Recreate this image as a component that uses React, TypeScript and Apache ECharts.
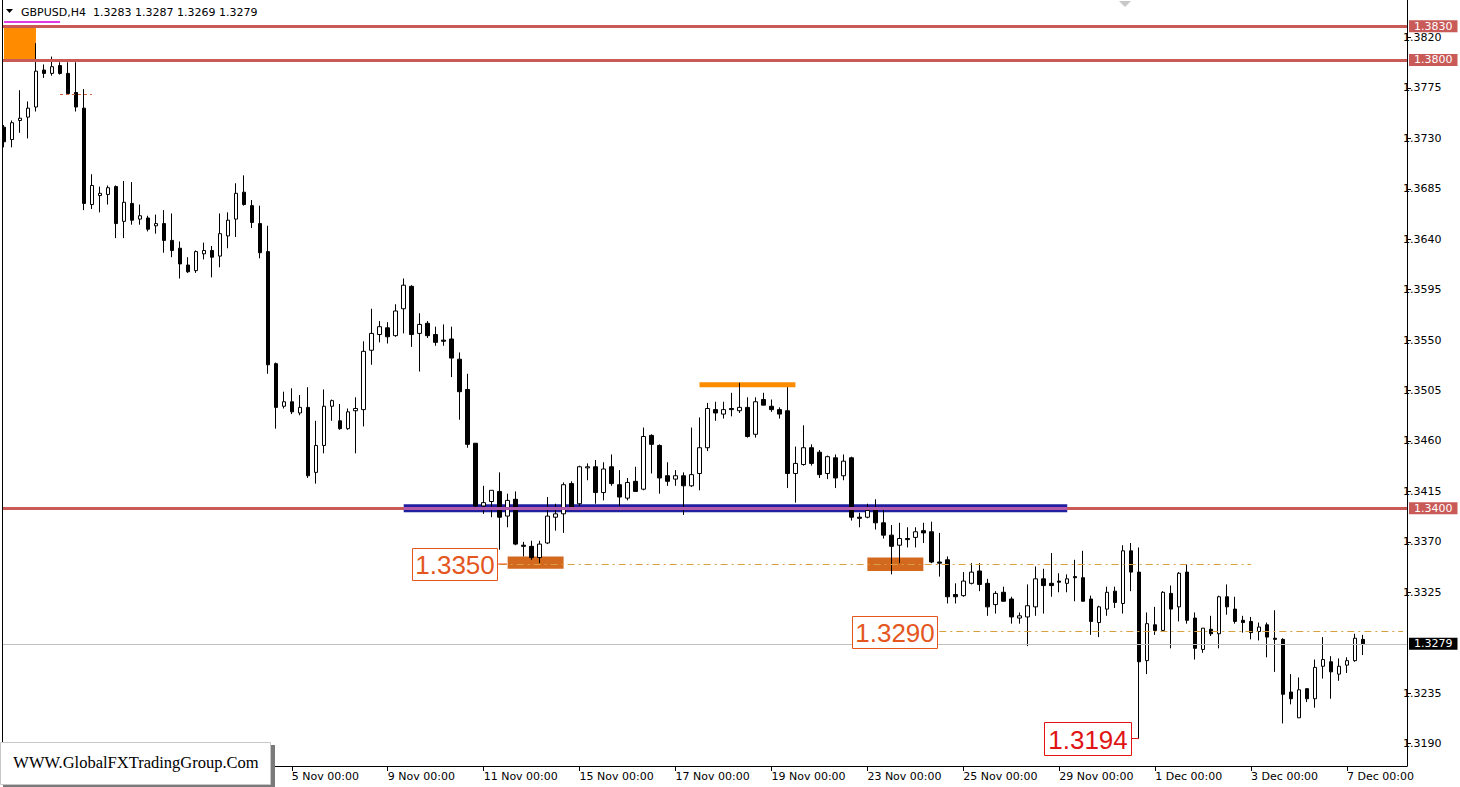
import React, { useEffect, useRef } from 'react';
import * as echarts from 'echarts';

const FONT = '"DejaVu Sans", Verdana, sans-serif';

// H4 bars: [open, close, low, high]
const bars: number[][] = [
  [1.3740, 1.3727, 1.3722, 1.3742], [1.3729, 1.3744, 1.3722, 1.3746], [1.3746, 1.3748, 1.3735, 1.3773],
  [1.3749, 1.3757, 1.3730, 1.3763], [1.3758, 1.3790, 1.3754, 1.3815], [1.3791, 1.3788, 1.3784, 1.3796],
  [1.3788, 1.3794, 1.3786, 1.3803], [1.3795, 1.3788, 1.3787, 1.3798], [1.3788, 1.3770, 1.3769, 1.3798],
  [1.3771, 1.3758, 1.3754, 1.3798], [1.3757, 1.3672, 1.3666, 1.3774], [1.3671, 1.3688, 1.3667, 1.3698],
  [1.3679, 1.3681, 1.3664, 1.3687], [1.3680, 1.3686, 1.3671, 1.3688], [1.3687, 1.3654, 1.3641, 1.3688],
  [1.3656, 1.3673, 1.3641, 1.3692], [1.3672, 1.3657, 1.3653, 1.3691], [1.3658, 1.3661, 1.3653, 1.3671],
  [1.3659, 1.3649, 1.3647, 1.3661], [1.3652, 1.3654, 1.3645, 1.3662], [1.3654, 1.3639, 1.3628, 1.3666],
  [1.3639, 1.3630, 1.3624, 1.3663], [1.3632, 1.3618, 1.3605, 1.3638], [1.3617, 1.3611, 1.3610, 1.3624],
  [1.3612, 1.3629, 1.3610, 1.3630], [1.3627, 1.3630, 1.3622, 1.3637], [1.3630, 1.3624, 1.3606, 1.3634],
  [1.3625, 1.3645, 1.3615, 1.3663], [1.3643, 1.3657, 1.3632, 1.3664], [1.3658, 1.3681, 1.3642, 1.3690],
  [1.3682, 1.3671, 1.3670, 1.3697], [1.3670, 1.3655, 1.3650, 1.3675], [1.3654, 1.3628, 1.3623, 1.3670],
  [1.3629, 1.3528, 1.3520, 1.3652], [1.3529, 1.3490, 1.3471, 1.3530], [1.3491, 1.3495, 1.3489, 1.3504],
  [1.3495, 1.3486, 1.3484, 1.3507], [1.3485, 1.3490, 1.3483, 1.3501], [1.3490, 1.3429, 1.3427, 1.3508],
  [1.3432, 1.3456, 1.3422, 1.3478], [1.3456, 1.3491, 1.3449, 1.3506], [1.3491, 1.3496, 1.3478, 1.3497],
  [1.3478, 1.3471, 1.3470, 1.3493], [1.3471, 1.3486, 1.3470, 1.3489], [1.3487, 1.3489, 1.3449, 1.3499],
  [1.3488, 1.3540, 1.3473, 1.3549], [1.3541, 1.3556, 1.3528, 1.3578], [1.3555, 1.3562, 1.3548, 1.3567],
  [1.3561, 1.3553, 1.3547, 1.3566], [1.3554, 1.3576, 1.3553, 1.3582], [1.3578, 1.3599, 1.3556, 1.3605],
  [1.3598, 1.3555, 1.3544, 1.3599], [1.3556, 1.3564, 1.3522, 1.3574], [1.3565, 1.3554, 1.3552, 1.3567],
  [1.3555, 1.3548, 1.3545, 1.3562], [1.3550, 1.3549, 1.3545, 1.3564], [1.3551, 1.3534, 1.3517, 1.3562],
  [1.3533, 1.3504, 1.3479, 1.3539], [1.3506, 1.3457, 1.3454, 1.3520], [1.3458, 1.3402, 1.3401, 1.3458],
  [1.3402, 1.3405, 1.3395, 1.3420], [1.3406, 1.3416, 1.3392, 1.3416], [1.3415, 1.3392, 1.3363, 1.3432],
  [1.3393, 1.3407, 1.3383, 1.3413], [1.3408, 1.3368, 1.3367, 1.3415], [1.3367, 1.3366, 1.3357, 1.3370],
  [1.3366, 1.3356, 1.3354, 1.3371], [1.3356, 1.3368, 1.3351, 1.3371], [1.3369, 1.3393, 1.3368, 1.3410],
  [1.3392, 1.3395, 1.3380, 1.3404], [1.3395, 1.3421, 1.3378, 1.3423], [1.3422, 1.3401, 1.3400, 1.3424],
  [1.3404, 1.3437, 1.3402, 1.3438], [1.3436, 1.3437, 1.3425, 1.3440], [1.3437, 1.3414, 1.3404, 1.3443],
  [1.3414, 1.3435, 1.3407, 1.3441], [1.3437, 1.3422, 1.3420, 1.3448], [1.3421, 1.3410, 1.3402, 1.3434],
  [1.3409, 1.3423, 1.3407, 1.3427], [1.3424, 1.3415, 1.3415, 1.3437], [1.3417, 1.3464, 1.3416, 1.3472],
  [1.3465, 1.3457, 1.3431, 1.3466], [1.3456, 1.3427, 1.3413, 1.3457], [1.3429, 1.3424, 1.3420, 1.3441],
  [1.3426, 1.3429, 1.3420, 1.3434], [1.3429, 1.3420, 1.3394, 1.3432], [1.3420, 1.3430, 1.3419, 1.3472],
  [1.3431, 1.3454, 1.3416, 1.3481], [1.3454, 1.3489, 1.3451, 1.3494], [1.3488, 1.3485, 1.3478, 1.3495],
  [1.3484, 1.3488, 1.3480, 1.3495], [1.3489, 1.3488, 1.3482, 1.3503], [1.3487, 1.3490, 1.3485, 1.3512],
  [1.3490, 1.3464, 1.3463, 1.3499], [1.3466, 1.3495, 1.3463, 1.3499], [1.3497, 1.3492, 1.3492, 1.3503],
  [1.3491, 1.3488, 1.3486, 1.3497], [1.3488, 1.3484, 1.3480, 1.3490], [1.3487, 1.3431, 1.3418, 1.3508],
  [1.3431, 1.3440, 1.3405, 1.3455], [1.3439, 1.3454, 1.3438, 1.3474], [1.3454, 1.3440, 1.3438, 1.3457],
  [1.3450, 1.3430, 1.3427, 1.3452], [1.3431, 1.3446, 1.3426, 1.3447], [1.3445, 1.3427, 1.3418, 1.3448],
  [1.3429, 1.3442, 1.3425, 1.3448], [1.3445, 1.3392, 1.3389, 1.3446], [1.3392, 1.3391, 1.3383, 1.3396],
  [1.3392, 1.3398, 1.3391, 1.3404], [1.3400, 1.3387, 1.3381, 1.3408], [1.3387, 1.3376, 1.3373, 1.3400],
  [1.3376, 1.3366, 1.3341, 1.3385], [1.3367, 1.3373, 1.3351, 1.3387], [1.3373, 1.3372, 1.3365, 1.3383],
  [1.3374, 1.3379, 1.3365, 1.3383], [1.3380, 1.3378, 1.3369, 1.3387], [1.3379, 1.3352, 1.3351, 1.3388],
  [1.3352, 1.3351, 1.3339, 1.3378], [1.3354, 1.3321, 1.3315, 1.3357], [1.3323, 1.3321, 1.3315, 1.3333],
  [1.3322, 1.3335, 1.3321, 1.3343], [1.3333, 1.3343, 1.3332, 1.3351], [1.3344, 1.3332, 1.3326, 1.3351],
  [1.3333, 1.3312, 1.3304, 1.3337], [1.3314, 1.3324, 1.3306, 1.3326], [1.3325, 1.3317, 1.3317, 1.3330],
  [1.3319, 1.3303, 1.3297, 1.3321], [1.3302, 1.3304, 1.3297, 1.3307], [1.3303, 1.3313, 1.3277, 1.3332],
  [1.3312, 1.3337, 1.3304, 1.3348], [1.3337, 1.3331, 1.3306, 1.3346], [1.3333, 1.3331, 1.3321, 1.3360],
  [1.3335, 1.3334, 1.3325, 1.3342], [1.3333, 1.3337, 1.3325, 1.3341], [1.3339, 1.3338, 1.3317, 1.3354],
  [1.3338, 1.3317, 1.3317, 1.3362], [1.3319, 1.3299, 1.3287, 1.3322], [1.3298, 1.3312, 1.3285, 1.3313],
  [1.3310, 1.3325, 1.3304, 1.3330], [1.3326, 1.3316, 1.3311, 1.3330], [1.3315, 1.3362, 1.3306, 1.3367],
  [1.3362, 1.3343, 1.3326, 1.3369], [1.3343, 1.3263, 1.3194, 1.3365], [1.3264, 1.3297, 1.3252, 1.3307],
  [1.3296, 1.3291, 1.3287, 1.3312], [1.3291, 1.3325, 1.3290, 1.3326], [1.3324, 1.3310, 1.3275, 1.3331],
  [1.3312, 1.3342, 1.3299, 1.3343], [1.3343, 1.3300, 1.3297, 1.3350], [1.3302, 1.3275, 1.3265, 1.3307],
  [1.3274, 1.3293, 1.3271, 1.3293], [1.3292, 1.3288, 1.3286, 1.3304], [1.3288, 1.3321, 1.3275, 1.3322],
  [1.3321, 1.3312, 1.3305, 1.3332], [1.3310, 1.3299, 1.3297, 1.3321], [1.3300, 1.3298, 1.3289, 1.3304],
  [1.3299, 1.3289, 1.3283, 1.3303], [1.3290, 1.3294, 1.3282, 1.3298], [1.3296, 1.3285, 1.3267, 1.3298],
  [1.3284, 1.3283, 1.3254, 1.3309], [1.3283, 1.3234, 1.3208, 1.3284], [1.3236, 1.3230, 1.3225, 1.3252],
  [1.3213, 1.3238, 1.3213, 1.3249], [1.3239, 1.3230, 1.3227, 1.3239], [1.3230, 1.3258, 1.3222, 1.3265],
  [1.3259, 1.3265, 1.3248, 1.3285], [1.3263, 1.3254, 1.3230, 1.3268], [1.3252, 1.3259, 1.3246, 1.3266],
  [1.3260, 1.3264, 1.3253, 1.3267], [1.3264, 1.3284, 1.3263, 1.3288], [1.3283, 1.3279, 1.3269, 1.3287],
];

// total bar slots visible on the chart (including empty shift area on the right)
const slotCount = 176;
const categories = Array.from({ length: slotCount }, (_, i) => String(i));

const xTickLabels: [number, string][] = [
  [36, '5 Nov 00:00'], [48, '9 Nov 00:00'], [60, '11 Nov 00:00'], [72, '15 Nov 00:00'],
  [84, '17 Nov 00:00'], [96, '19 Nov 00:00'], [108, '23 Nov 00:00'], [120, '25 Nov 00:00'],
  [132, '29 Nov 00:00'], [144, '1 Dec 00:00'], [156, '3 Dec 00:00'], [168, '7 Dec 00:00'],
];

const yTickValues = [1.3190, 1.3235, 1.3325, 1.3370, 1.3415, 1.3460, 1.3505, 1.3550, 1.3595,
  1.3640, 1.3685, 1.3730, 1.3775, 1.3820];

const redLevels = [1.3830, 1.3800, 1.3400];
const lastPrice = 1.3279;
const titleText = 'GBPUSD,H4  1.3283 1.3287 1.3269 1.3279';

// zones: [fromBar, toBar, upperPrice, lowerPrice]
const zoneTopLeft = [0, 4, 1.3830, 1.3800];
const zoneHigh = [87, 99, 1.35124, 1.3508];
const zoneSupportA = [63, 70, 1.3357, 1.3346];
const zoneSupportB = [108, 115, 1.3356, 1.3344];
const zoneBlue = [50, 133, 1.34035, 1.33965];

// segments: [fromBar, toBar, price]
const dashLevel1 = [62, 156, 1.3350];
const dashLevel2 = [117, 175, 1.3290];
const smallRedDash = [7, 11, 1.3769];
const magentaMark = [0, 7, 1.3834];

const callouts = [
  { text: '1.3350', x: 412, y: 548, w: 85, h: 32, color: '#e4561e', lx: 507 },
  { text: '1.3290', x: 852, y: 616, w: 85, h: 32, color: '#e4561e', lx: 937 },
  { text: '1.3194', x: 1044, y: 722, w: 87, h: 33, color: '#e01414', lx: 1139 },
];

export default function App() {
  const ref = useRef<HTMLDivElement>(null);

  useEffect(() => {
    if (!ref.current) return;
    const chart = echarts.init(ref.current, undefined, { renderer: 'svg' });
    const tickMap = new Map<number, string>(xTickLabels);

    const zoneItem = (z: number[], color: string) => [
      { xAxis: z[0], yAxis: z[2], itemStyle: { color, opacity: 1 } },
      { xAxis: z[1], yAxis: z[3] },
    ];
    const seg = (s: number[], lineStyle: any) => [
      { xAxis: s[0], yAxis: s[2], lineStyle },
      { xAxis: s[1], yAxis: s[2] },
    ];
    const rightLabel = (text: string, bg: string) => ({
      show: true,
      position: 'end',
      formatter: text,
      color: '#fff',
      backgroundColor: bg,
      padding: [1, 5, 0, 5],
      fontSize: 11,
      fontFamily: FONT,
      distance: 2,
    });
    const dashStyle = { color: '#d9a040', width: 1, type: [7, 4, 2, 4] };

    const graphics: any[] = [
      { type: 'rect', shape: { x: 0, y: 0, width: 2, height: 766 }, style: { fill: '#fff' }, z: 100 },
      { type: 'line', shape: { x1: 2.5, y1: 0, x2: 2.5, y2: 766 }, style: { stroke: '#000', lineWidth: 1 }, z: 100 },
      { type: 'polygon', shape: { points: [[6, 9], [13, 9], [9.5, 13]] }, style: { fill: '#000' }, z: 100 },
      {
        type: 'text', x: 21, y: 12, z: 100,
        style: { text: titleText, fontSize: 11, fontFamily: FONT, fill: '#000', verticalAlign: 'middle' },
      },
      { type: 'polygon', shape: { points: [[1119, 1], [1131, 1], [1125, 7]] }, style: { fill: '#c8c8c8' }, z: 100 },
    ];
    callouts.forEach((c) => {
      graphics.push({
        type: 'line', z: 100,
        shape: { x1: c.x + c.w, y1: c.y + c.h / 2, x2: c.lx, y2: c.y + c.h / 2 },
        style: { stroke: c.color, lineWidth: 1 },
      });
      graphics.push({
        type: 'rect', z: 100,
        shape: { x: c.x + 0.5, y: c.y + 0.5, width: c.w, height: c.h },
        style: { fill: '#fff', stroke: c.color, lineWidth: 1 },
      });
      graphics.push({
        type: 'text', z: 101, x: c.x + c.w / 2 + 0.5, y: c.y + c.h / 2 + 1,
        style: {
          text: c.text, fontSize: 26, fontFamily: '"Liberation Sans", Arial, sans-serif',
          fill: c.color, align: 'center', verticalAlign: 'middle',
        },
      });
    });
    graphics.push(
      { type: 'rect', z: 110, shape: { x: 3, y: 745, width: 272, height: 44 }, style: { fill: '#7a7a7a' } },
      { type: 'rect', z: 111, shape: { x: 0.5, y: 742.5, width: 270, height: 42 }, style: { fill: '#fff', stroke: '#c8c8c8', lineWidth: 1 } },
      {
        type: 'text', z: 112, x: 136, y: 762,
        style: {
          text: 'WWW.GlobalFXTradingGroup.Com', fontSize: 16.5,
          fontFamily: '"Liberation Serif", "Times New Roman", serif', fill: '#000',
          align: 'center', verticalAlign: 'middle',
        },
      },
    );

    chart.setOption({
      animation: false,
      backgroundColor: '#ffffff',
      grid: { left: -1, top: 0, width: 1408, height: 766 },
      xAxis: {
        type: 'category',
        data: categories,
        boundaryGap: true,
        axisLine: { show: true, lineStyle: { color: '#000', width: 1 } },
        axisTick: {
          show: true, alignWithLabel: true, length: 5,
          interval: (i: number) => tickMap.has(i),
          lineStyle: { color: '#000' },
        },
        axisLabel: {
          show: true,
          interval: (i: number) => tickMap.has(i),
          formatter: (_v: string, i: number) => tickMap.get(i) || '',
          align: 'left', margin: 5, color: '#000', fontSize: 11, fontFamily: FONT,
        },
        splitLine: { show: false },
      },
      yAxis: {
        type: 'value',
        position: 'right',
        min: 1.3170,
        max: 1.38535,
        axisLine: { show: true, lineStyle: { color: '#000', width: 1 } },
        axisTick: { show: true, length: 4, customValues: yTickValues, lineStyle: { color: '#000' } },
        axisLabel: {
          show: true, customValues: yTickValues,
          formatter: (v: number) => v.toFixed(4),
          align: 'left',
          margin: -4, color: '#000', fontSize: 11, fontFamily: FONT,
        },
        splitLine: { show: false },
      },
      graphic: graphics,
      series: [
        {
          type: 'line', data: [], z: 1, silent: true,
          markArea: {
            silent: true,
            data: [
              zoneItem(zoneTopLeft, '#ff8c00'),
              zoneItem(zoneHigh, '#ff8c00'),
              zoneItem(zoneSupportA, '#d2691e'),
              zoneItem(zoneSupportB, '#d2691e'),
              zoneItem(zoneBlue, '#1f1fa0'),
            ],
          },
        },
        {
          type: 'line', data: [], z: 2, silent: true,
          markLine: {
            silent: true,
            precision: 6,
            symbol: ['none', 'none'],
            label: { show: false },
            data: [
              { yAxis: lastPrice, lineStyle: { color: '#c0c0c0', width: 1, type: 'solid' }, label: rightLabel('1.3279', '#000') },
              ...redLevels.map((v) => ({
                yAxis: v,
                lineStyle: { color: '#c85a58', width: 3, type: 'solid' },
                label: rightLabel(v.toFixed(4), '#c85a58'),
              })),
              seg([zoneBlue[0], zoneBlue[1], 1.3400], { color: '#b35aa8', width: 3, type: 'solid' }),
              seg(magentaMark, { color: '#e03ae0', width: 2, type: 'solid' }),
              seg(dashLevel1, dashStyle),
              seg(dashLevel2, dashStyle),
              seg(smallRedDash, { color: '#d06040', width: 1, type: [3, 3] }),
            ],
          },
        },
        {
          type: 'candlestick',
          z: 3,
          data: bars,
          barWidth: 4,
          itemStyle: {
            color: '#ffffff', color0: '#000000',
            borderColor: '#000000', borderColor0: '#000000', borderWidth: 1,
          },
        },
      ],
    });

    return () => chart.dispose();
  }, []);

  return (
    <div
      ref={ref}
      style={{ position: 'absolute', left: 0, top: 0, width: 1460, height: 787, background: '#fff' }}
    />
  );
}
